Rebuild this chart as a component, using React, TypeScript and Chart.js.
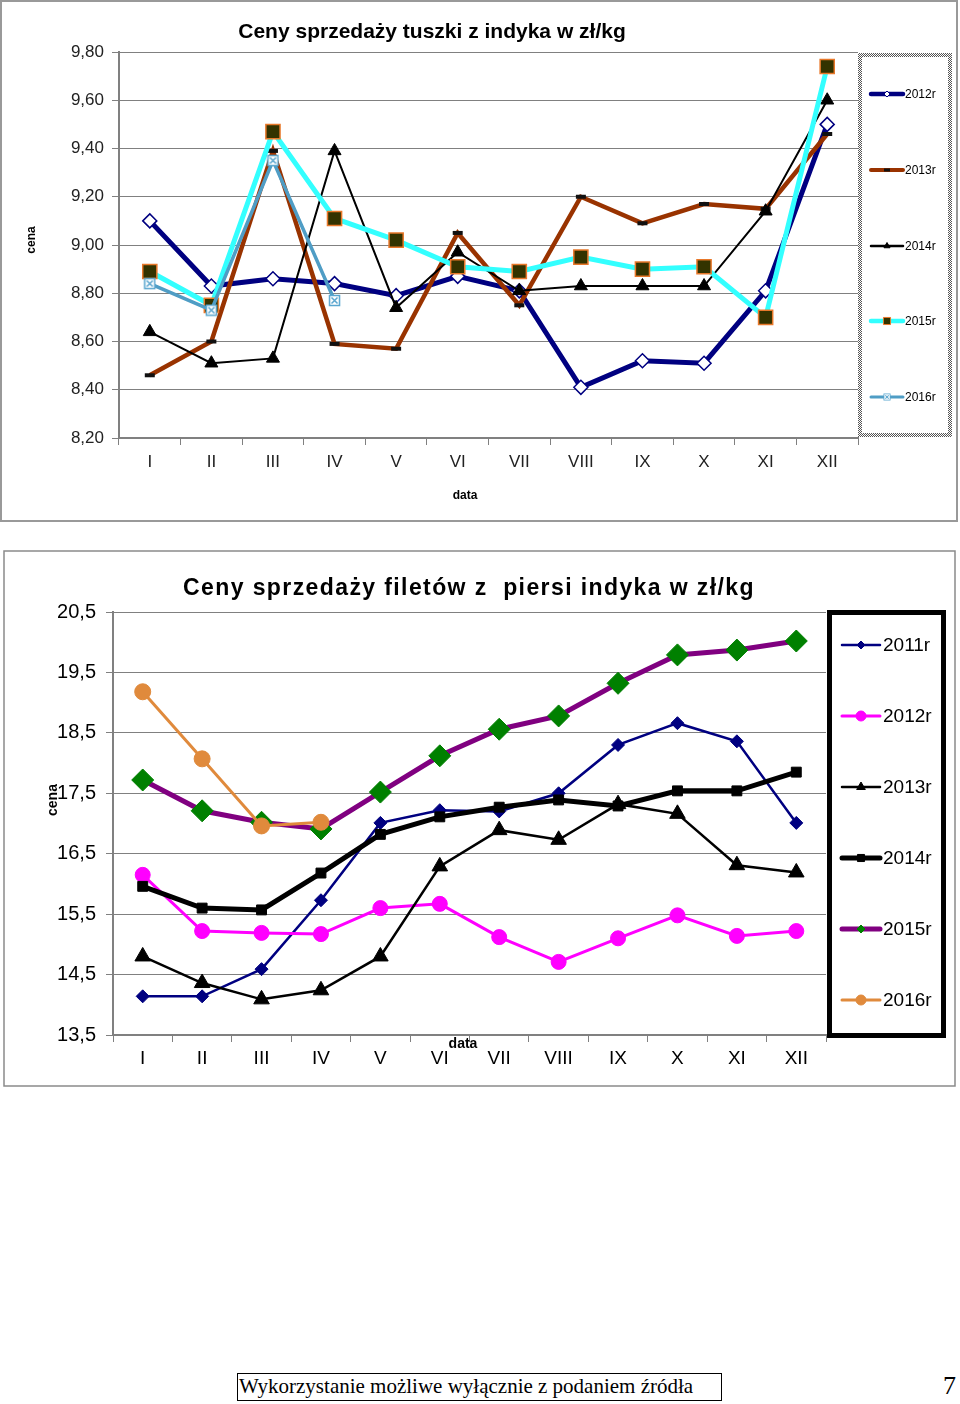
import React, { useEffect, useRef } from 'react';
import { Chart, registerables } from 'chart.js';

Chart.register(...registerables);

// ---------- data ----------
const months = ['I', 'II', 'III', 'IV', 'V', 'VI', 'VII', 'VIII', 'IX', 'X', 'XI', 'XII'];

// Chart 1: tuszki z indyka (zł/kg)
const tLabels = ['2012r', '2013r', '2014r', '2015r', '2016r'];
const t2012 = [9.10, 8.83, 8.86, 8.84, 8.79, 8.87, 8.81, 8.41, 8.52, 8.51, 8.81, 9.50];
const t2013 = [8.46, 8.60, 9.39, 8.59, 8.57, 9.05, 8.75, 9.20, 9.09, 9.17, 9.15, 9.46];
const t2014 = [8.64, 8.51, 8.53, 9.39, 8.74, 8.97, 8.81, 8.83, 8.83, 8.83, 9.14, 9.60];
const t2015 = [8.89, 8.75, 9.47, 9.11, 9.02, 8.91, 8.89, 8.95, 8.90, 8.91, 8.70, 9.74];
const t2016 = [8.84, 8.73, 9.35, 8.77, null, null, null, null, null, null, null, null];

// Chart 2: filety z piersi indyka (zł/kg)
const fLabels = ['2011r', '2012r', '2013r', '2014r', '2015r', '2016r'];
const f2011 = [14.14, 14.14, 14.59, 15.73, 17.01, 17.22, 17.20, 17.50, 18.30, 18.66, 18.36, 17.01];
const f2012 = [16.15, 15.22, 15.19, 15.17, 15.60, 15.67, 15.12, 14.71, 15.10, 15.48, 15.14, 15.22];
const f2013 = [14.80, 14.36, 14.09, 14.24, 14.80, 16.29, 16.89, 16.73, 17.32, 17.16, 16.31, 16.19];
const f2014 = [15.96, 15.60, 15.57, 16.18, 16.82, 17.11, 17.27, 17.39, 17.29, 17.54, 17.54, 17.85];
const f2015 = [17.72, 17.21, 17.02, 16.91, 17.52, 18.12, 18.56, 18.78, 19.32, 19.79, 19.87, 20.02];
const f2016 = [19.18, 18.07, 16.96, 17.02, null, null, null, null, null, null, null, null];

const FONT = '"Liberation Sans", Arial, sans-serif';

// ---------- helpers ----------
function boxX(size: number): HTMLCanvasElement {
  const c = document.createElement('canvas');
  c.width = size;
  c.height = size;
  const g = c.getContext('2d')!;
  g.fillStyle = '#ffffff';
  g.fillRect(1, 1, size - 2, size - 2);
  g.strokeStyle = '#5aa6cf';
  g.lineWidth = 1.5;
  g.strokeRect(1.5, 1.5, size - 3, size - 3);
  g.beginPath();
  g.moveTo(3.5, 3.5);
  g.lineTo(size - 3.5, size - 3.5);
  g.moveTo(size - 3.5, 3.5);
  g.lineTo(3.5, size - 3.5);
  g.stroke();
  return c;
}

function drawMarker(ctx: CanvasRenderingContext2D, style: any, x: number, y: number, r: number, fill: string, stroke: string, lw: number) {
  ctx.save();
  if (style instanceof HTMLCanvasElement) {
    ctx.drawImage(style, x - r, y - r, 2 * r, 2 * r);
    ctx.restore();
    return;
  }
  ctx.beginPath();
  ctx.fillStyle = fill;
  ctx.strokeStyle = stroke;
  ctx.lineWidth = lw;
  if (style === 'rectRot') {
    ctx.moveTo(x, y - r);
    ctx.lineTo(x + r, y);
    ctx.lineTo(x, y + r);
    ctx.lineTo(x - r, y);
    ctx.closePath();
    ctx.fill();
    ctx.stroke();
  } else if (style === 'rect') {
    const s = r * Math.SQRT1_2;
    ctx.rect(x - s, y - s, 2 * s, 2 * s);
    ctx.fill();
    ctx.stroke();
  } else if (style === 'triangle') {
    for (let i = 0; i < 3; i++) {
      const a = (i * 2 * Math.PI) / 3;
      const px = x + Math.sin(a) * r;
      const py = y - Math.cos(a) * r;
      if (i === 0) ctx.moveTo(px, py);
      else ctx.lineTo(px, py);
    }
    ctx.closePath();
    ctx.fill();
    ctx.stroke();
  } else if (style === 'circle') {
    ctx.arc(x, y, r, 0, Math.PI * 2);
    ctx.fill();
    ctx.stroke();
  } else if (style === 'line') {
    ctx.moveTo(x - r, y);
    ctx.lineTo(x + r, y);
    ctx.stroke();
  }
  ctx.restore();
}

const decor = {
  id: 'decor',
  beforeDraw(chart: any, _a: any, o: any) {
    const ctx = chart.ctx as CanvasRenderingContext2D;
    ctx.save();
    ctx.fillStyle = '#ffffff';
    ctx.fillRect(0, 0, chart.width, chart.height);
    ctx.strokeStyle = o.frameColor;
    ctx.lineWidth = o.frameWidth;
    const f = o.frame;
    ctx.strokeRect(f[0], f[1], f[2], f[3]);
    ctx.restore();
  },
  afterDraw(chart: any, _a: any, o: any) {
    const ctx = chart.ctx as CanvasRenderingContext2D;
    ctx.save();
    ctx.fillStyle = '#000';
    ctx.textAlign = 'center';
    ctx.textBaseline = 'middle';
    // title
    ctx.save();
    ctx.font = o.title.font;
    (ctx as any).letterSpacing = o.title.spacing || '0px';
    ctx.fillText(o.title.text, o.title.x, o.title.y);
    ctx.restore();
    // x title
    ctx.font = o.xTitle.font;
    ctx.fillText(o.xTitle.text, o.xTitle.x, o.xTitle.y);
    // y title
    ctx.save();
    ctx.translate(o.yTitle.x, o.yTitle.y);
    ctx.rotate(-Math.PI / 2);
    ctx.font = o.yTitle.font;
    ctx.fillText(o.yTitle.text, 0, 0);
    ctx.restore();

    // legend box
    const L = o.legend;
    const b = L.box;
    if (L.checkered) {
      const pc = document.createElement('canvas');
      pc.width = 2;
      pc.height = 2;
      const pg = pc.getContext('2d')!;
      pg.fillStyle = '#ffffff';
      pg.fillRect(0, 0, 2, 2);
      pg.fillStyle = '#555555';
      pg.fillRect(0, 0, 1, 1);
      pg.fillRect(1, 1, 1, 1);
      const pat = ctx.createPattern(pc, 'repeat')!;
      ctx.fillStyle = pat;
      ctx.fillRect(b[0], b[1], b[2], b[3]);
      ctx.fillStyle = '#ffffff';
      ctx.fillRect(b[0] + L.bw, b[1] + L.bw, b[2] - 2 * L.bw, b[3] - 2 * L.bw);
    } else {
      ctx.fillStyle = '#ffffff';
      ctx.fillRect(b[0], b[1], b[2], b[3]);
      ctx.strokeStyle = '#000';
      ctx.lineWidth = L.bw;
      ctx.strokeRect(b[0] + L.bw / 2, b[1] + L.bw / 2, b[2] - L.bw, b[3] - L.bw);
    }
    // legend items
    chart.data.datasets.forEach((ds: any, i: number) => {
      const y = L.ys[i];
      ctx.save();
      ctx.strokeStyle = ds.borderColor;
      ctx.lineWidth = L.lineW[i];
      ctx.lineCap = 'round';
      ctx.beginPath();
      ctx.moveTo(L.x1, y);
      ctx.lineTo(L.x2, y);
      ctx.stroke();
      ctx.restore();
      drawMarker(ctx, ds.pointStyle, (L.x1 + L.x2) / 2, y, L.markR[i], ds.pointBackgroundColor, ds.pointBorderColor, L.markLW[i]);
      ctx.fillStyle = '#000';
      ctx.font = L.font;
      ctx.textAlign = 'left';
      ctx.textBaseline = 'middle';
      ctx.fillText(ds.label, L.tx, y + 1);
    });
    ctx.restore();
  },
};

function layoutOpts(W: number, H: number, left: number, right: number, top: number, bottom: number) {
  return {
    padding: { left: 0, right: W - right, top: top, bottom: 0 },
    yFit: (s: any) => { s.width = left; },
    xFit: (s: any) => { s.height = H - bottom; },
  };
}

function ChartCanvas({ config, left, top, width, height }: any) {
  const ref = useRef<HTMLCanvasElement>(null);
  useEffect(() => {
    const c = new Chart(ref.current!, config);
    return () => c.destroy();
  }, []);
  return (
    <canvas
      ref={ref}
      width={width}
      height={height}
      style={{ position: 'absolute', left, top, width, height }}
    />
  );
}

// ---------- chart 1 config ----------
function config1() {
  const W = 958, H = 522;
  const lo = layoutOpts(W, H, 119, 858, 52, 438);
  const img = boxX(13);
  const series = [t2012, t2013, t2014, t2015, t2016];
  const styles = [
    { c: '#000080', w: 5, ps: 'rectRot', r: 7, bg: '#ffffff', bc: '#000080', bw: 1.5 },
    { c: '#993300', w: 4.5, ps: 'line', r: 5, bg: '#111111', bc: '#111111', bw: 4 },
    { c: '#000000', w: 2, ps: 'triangle', r: 7.5, bg: '#000000', bc: '#000000', bw: 1 },
    { c: '#33ffff', w: 5, ps: 'rect', r: 10, bg: '#333300', bc: '#e8782a', bw: 1.5 },
    { c: '#4f9dc5', w: 3.5, ps: img, r: 6.5, bg: '#ffffff', bc: '#4f9dc5', bw: 1 },
  ];
  return {
    type: 'line',
    data: {
      labels: months,
      datasets: series.map((d, i) => ({
        label: tLabels[i],
        data: d,
        borderColor: styles[i].c,
        backgroundColor: styles[i].c,
        borderWidth: styles[i].w,
        pointStyle: styles[i].ps,
        pointRadius: styles[i].r,
        pointBackgroundColor: styles[i].bg,
        pointBorderColor: styles[i].bc,
        pointBorderWidth: styles[i].bw,
        tension: 0,
        spanGaps: false,
        order: -i,
      })),
    },
    options: {
      responsive: false,
      animation: false,
      devicePixelRatio: 1,
      layout: { padding: lo.padding },
      plugins: {
        legend: { display: false },
        title: { display: false },
        tooltip: { enabled: false },
        decor: {
          frame: [1, 1, W - 2, H - 2],
          frameColor: '#999999',
          frameWidth: 2,
          title: { text: 'Ceny sprzedaży tuszki z indyka w zł/kg', x: 432, y: 32, font: `bold 21px ${FONT}`, spacing: '0px' },
          xTitle: { text: 'data', x: 465, y: 496, font: `bold 12px ${FONT}` },
          yTitle: { text: 'cena', x: 32, y: 240, font: `bold 12px ${FONT}` },
          legend: {
            checkered: true,
            box: [858, 53, 94, 384],
            bw: 4,
            ys: [94, 170, 246, 321, 397],
            x1: 871,
            x2: 903,
            tx: 905,
            lineW: [4.5, 4, 2.5, 4.5, 3],
            markR: [3, 3, 3.5, 5, 4],
            markLW: [1, 3, 1, 1, 1],
            font: `12px ${FONT}`,
          },
        },
      },
      scales: {
        x: {
          offset: true,
          afterFit: lo.xFit,
          grid: { display: true, drawOnChartArea: false, drawTicks: true, tickLength: 7, offset: true, color: '#808080' },
          border: { display: true, color: '#808080', width: 2 },
          ticks: { color: '#222', font: { family: FONT, size: 17 }, padding: 7, maxRotation: 0, autoSkip: false },
        },
        y: {
          min: 8.2,
          max: 9.8,
          afterFit: lo.yFit,
          grid: { color: '#808080', lineWidth: 1, drawTicks: true, tickLength: 7 },
          border: { display: true, color: '#808080', width: 2 },
          ticks: {
            stepSize: 0.2,
            color: '#222',
            padding: 8,
            font: { family: FONT, size: 17 },
            callback: (v: any) => Number(v).toFixed(2).replace('.', ','),
          },
        },
      },
    },
    plugins: [decor],
  };
}

// ---------- chart 2 config ----------
function config2() {
  const W = 953, H = 537;
  const ox = 3, oy = 550;
  const lo = layoutOpts(W, H, 113 - ox, 826 - ox, 612 - oy, 1035 - oy);
  const series = [f2011, f2012, f2013, f2014, f2015, f2016];
  const styles = [
    { c: '#000080', w: 2.5, ps: 'rectRot', r: 6.5, bg: '#000080', bc: '#000080', bw: 1 },
    { c: '#ff00ff', w: 3, ps: 'circle', r: 7.5, bg: '#ff00ff', bc: '#ff00ff', bw: 1 },
    { c: '#000000', w: 2.5, ps: 'triangle', r: 9, bg: '#000000', bc: '#000000', bw: 1 },
    { c: '#000000', w: 5, ps: 'rect', r: 7, bg: '#000000', bc: '#000000', bw: 1 },
    { c: '#800080', w: 5, ps: 'rectRot', r: 11, bg: '#008000', bc: '#008000', bw: 1 },
    { c: '#e08a3c', w: 3, ps: 'circle', r: 8, bg: '#e08a3c', bc: '#e08a3c', bw: 1 },
  ];
  return {
    type: 'line',
    data: {
      labels: months,
      datasets: series.map((d, i) => ({
        label: fLabels[i],
        data: d,
        borderColor: styles[i].c,
        backgroundColor: styles[i].c,
        borderWidth: styles[i].w,
        pointStyle: styles[i].ps,
        pointRadius: styles[i].r,
        pointBackgroundColor: styles[i].bg,
        pointBorderColor: styles[i].bc,
        pointBorderWidth: styles[i].bw,
        tension: 0,
        spanGaps: false,
        order: -i,
      })),
    },
    options: {
      responsive: false,
      animation: false,
      devicePixelRatio: 1,
      layout: { padding: lo.padding },
      plugins: {
        legend: { display: false },
        title: { display: false },
        tooltip: { enabled: false },
        decor: {
          frame: [1, 1, W - 2, H - 2],
          frameColor: '#8a8a8a',
          frameWidth: 1.5,
          title: { text: 'Ceny sprzedaży filetów z  piersi indyka w zł/kg', x: 469 - ox, y: 589 - oy, font: `bold 23px ${FONT}`, spacing: '1.4px' },
          xTitle: { text: 'data', x: 463 - ox, y: 1044 - oy, font: `bold 14px ${FONT}` },
          yTitle: { text: 'cena', x: 53 - ox, y: 800 - oy, font: `bold 14px ${FONT}` },
          legend: {
            checkered: false,
            box: [827 - ox, 610 - oy, 119, 428],
            bw: 5,
            ys: [645, 716, 787, 858, 929, 1000].map((v) => v - oy),
            x1: 842 - ox,
            x2: 880 - ox,
            tx: 883 - ox,
            lineW: [2.5, 3, 2.5, 5, 5, 3],
            markR: [4, 5, 5, 5, 4, 5],
            markLW: [1, 1, 1, 1, 1, 1],
            font: `19px ${FONT}`,
          },
        },
      },
      scales: {
        x: {
          offset: true,
          afterFit: lo.xFit,
          grid: { display: true, drawOnChartArea: false, drawTicks: true, tickLength: 7, offset: true, color: '#808080' },
          border: { display: true, color: '#808080', width: 2 },
          ticks: { color: '#000', font: { family: FONT, size: 19 }, padding: 5, maxRotation: 0, autoSkip: false },
        },
        y: {
          min: 13.5,
          max: 20.5,
          afterFit: lo.yFit,
          grid: { color: '#808080', lineWidth: 1, drawTicks: true, tickLength: 7 },
          border: { display: true, color: '#808080', width: 2 },
          ticks: {
            stepSize: 1,
            color: '#000',
            padding: 10,
            font: { family: FONT, size: 20 },
            callback: (v: any) => Number(v).toFixed(1).replace('.', ','),
          },
        },
      },
    },
    plugins: [decor],
  };
}

export default function App() {
  return (
    <div style={{ position: 'absolute', left: 0, top: 0, width: 960, height: 1404, background: '#ffffff', overflow: 'hidden' }}>
      <ChartCanvas config={config1()} left={0} top={0} width={958} height={522} />
      <ChartCanvas config={config2()} left={3} top={550} width={953} height={537} />
      <div
        style={{
          position: 'absolute',
          left: 237,
          top: 1373,
          width: 485,
          height: 28,
          boxSizing: 'border-box',
          border: '1.5px solid #000',
          fontFamily: '"Liberation Serif", "Times New Roman", serif',
          fontSize: 21,
          lineHeight: '25px',
          paddingLeft: 1,
          whiteSpace: 'nowrap',
          color: '#000',
        }}
      >
        Wykorzystanie możliwe wyłącznie z podaniem źródła
      </div>
      <div
        style={{
          position: 'absolute',
          left: 943,
          top: 1371,
          fontFamily: '"Liberation Serif", "Times New Roman", serif',
          fontSize: 26,
          lineHeight: '30px',
          color: '#000',
        }}
      >
        7
      </div>
    </div>
  );
}
